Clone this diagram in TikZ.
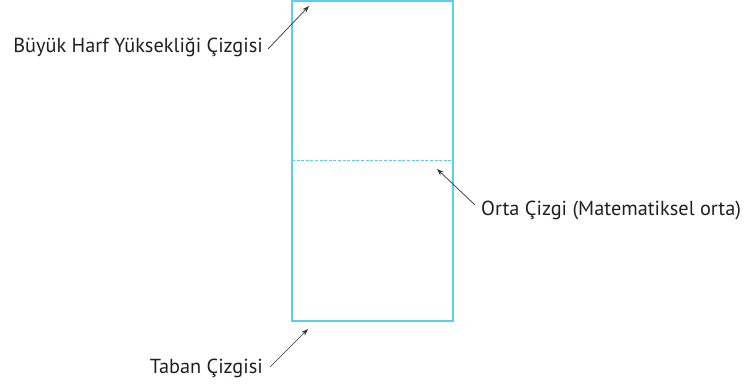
\documentclass[tikz,border=0pt]{standalone}
\usepackage{fontspec}
\setmainfont{PT Sans}
\usetikzlibrary{arrows.meta}
\definecolor{guide}{HTML}{5CCFF0}
\definecolor{ink}{HTML}{231F20}
\definecolor{pointer}{HTML}{333333}
\begin{document}
\begin{tikzpicture}[x=1pt,y=-1pt,
  label/.style={font=\fontsize{20.3}{22}\selectfont, text=ink, inner sep=0pt},
  guideline/.style={draw=guide, line width=1.2pt},
  pointerarrow/.style={draw=pointer, line width=0.7pt, -{Stealth[length=7pt,width=5pt]}}]
  % page frame
  \fill[white] (0,0) rectangle (748,387);
  \useasboundingbox (0,0) rectangle (748,387);

  % letter box with the x-height line
  \node[guideline, minimum width=161pt, minimum height=320pt, inner sep=0pt] (box) at (372.5,161) {};
  \coordinate (midL) at (292,161);
  \coordinate (midR) at (453,161);
  \draw[draw=guide, line width=1pt, dash pattern=on 3pt off 1.6pt] (midL) -- (midR);

  % labels
  \node[label, anchor=base east] (cap) at (263,53) {Büyük Harf Yüksekliği Çizgisi};
  \node[label, anchor=base west] (mid) at (481,216) {Orta Çizgi (Matematiksel orta)};
  \node[label, anchor=base east] (base) at (263,374) {Taban Çizgisi};

  % pointer tails and heads
  \coordinate (capT) at (268,49);
  \coordinate (capH) at (309,6);
  \coordinate (midT) at (475,205);
  \coordinate (midH) at (437,169);
  \coordinate (baseT) at (270,367);
  \coordinate (baseH) at (308,329);

  \draw[pointerarrow] (capT) -- (capH);
  \draw[pointerarrow] (midT) -- (midH);
  \draw[pointerarrow] (baseT) -- (baseH);
\end{tikzpicture}
\end{document}
